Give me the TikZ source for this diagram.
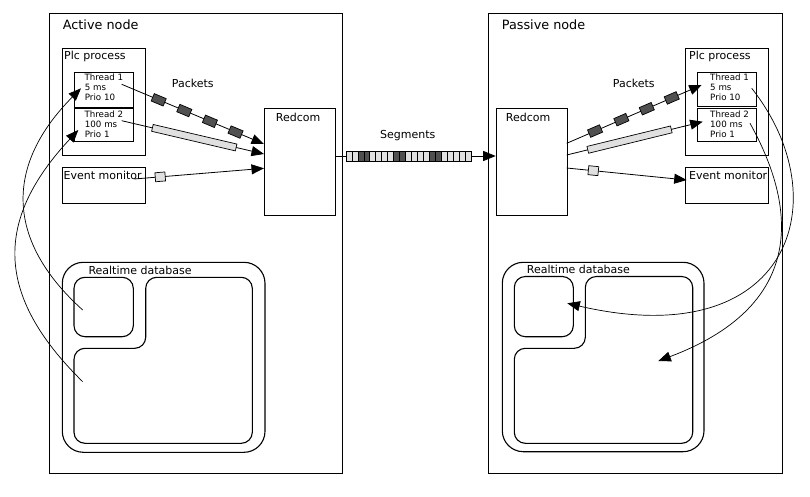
\documentclass[tikz,border=0pt]{standalone}
\usepackage{fontspec}
\setmainfont{DejaVu Sans}
\usetikzlibrary{arrows.meta}
\definecolor{pktdark}{HTML}{505050}
\definecolor{pktlight}{HTML}{E0E0E0}
\begin{document}
\begin{tikzpicture}[x=1pt,y=-1pt,
  box/.style={draw, line width=1.1pt, inner sep=0pt, anchor=north west},
  lbl/.style={anchor=base west, inner sep=0pt, font=\fontsize{11}{13}\selectfont},
  biglbl/.style={anchor=base west, inner sep=0pt, font=\fontsize{12.8}{15}\selectfont},
  tt/.style={anchor=base west, inner sep=0pt, font=\fontsize{8.7}{10}\selectfont},
  conn/.style={line width=0.8pt, -{Triangle[length=12.5pt,width=10pt]}},
  curv/.style={line width=0.7pt, -{Triangle[length=12.5pt,width=10pt]}},
  dpkt/.style={draw, line width=0.7pt, fill=pktdark, minimum width=13pt, minimum height=8pt, inner sep=0pt, sloped},
  lpkt/.style={draw, line width=0.7pt, fill=pktlight, minimum width=86pt, minimum height=7pt, inner sep=0pt, sloped},
  epkt/.style={draw, line width=0.7pt, fill=pktlight, minimum width=10pt, minimum height=9pt, inner sep=0pt, sloped},
  db/.style={line width=1.1pt},
  seg/.style={draw, line width=0.7pt}
]
\fill[white] (0,0) rectangle (810,497);
\useasboundingbox (0,0) rectangle (810,497);

% ---------- Active node ----------
\node[box, minimum width=292.4pt, minimum height=459.4pt] (an) at (49.3,13.3) {};
\node[biglbl] (anl) at (62.7,29.5) {Active node};
\node[box, minimum width=83pt, minimum height=106.7pt] (apl) at (62.3,48.3) {};
\node[lbl] (apll) at (64,60) {Plc process};
\node[box, minimum width=59pt, minimum height=34.7pt] (at1) at (74.3,72) {};
\node[tt] (at1a) at (84.3,81) {Thread 1};
\node[tt] (at1b) at (84.7,90.5) {5 ms};
\node[tt] (at1c) at (84.7,100.7) {Prio 10};
\node[box, minimum width=59pt, minimum height=32.7pt] (at2) at (74.3,108.3) {};
\node[tt] (at2a) at (84.3,118) {Thread 2};
\node[tt] (at2b) at (84.7,127.3) {100 ms};
\node[tt] (at2c) at (84.7,137.3) {Prio 1};
\node[box, minimum width=83pt, minimum height=36pt] (aev) at (62.3,167.3) {};
\node[lbl] (aevl) at (63.5,179) {Event monitor};
\node[box, minimum width=71.3pt, minimum height=106.7pt] (ard) at (264,108.3) {};
\node[lbl] (ardl) at (275.7,122) {Redcom};
\node[lbl] (apk) at (171.7,87.3) {Packets};

% Realtime database (active)
\draw[db, rounded corners=21pt] (62.3,262.3) rectangle (265,452.3);
\node[lbl] (adbl) at (88.3,274) {Realtime database};
\draw[db, rounded corners=11pt] (74,277.3) rectangle (133.3,336.7);
\draw[db, rounded corners=11pt] (74,348.3) -- (145.7,348.3) -- (145.7,277.3) -- (252.3,277.3) -- (252.3,443.3) -- (74,443.3) -- cycle;

% ---------- Passive node ----------
\node[box, minimum width=293.4pt, minimum height=460pt] (pn) at (488.3,12.7) {};
\node[biglbl] (pnl) at (501.7,29.5) {Passive node};
\node[box, minimum width=83.3pt, minimum height=106.7pt] (ppl) at (685,48.3) {};
\node[lbl] (ppll) at (689,60) {Plc process};
\node[box, minimum width=58.7pt, minimum height=34pt] (pt1) at (697.3,72) {};
\node[tt] (pt1a) at (710,81) {Thread 1};
\node[tt] (pt1b) at (710,90.5) {5 ms};
\node[tt] (pt1c) at (710,100.7) {Prio 10};
\node[box, minimum width=58.7pt, minimum height=32.7pt] (pt2) at (697.3,108.3) {};
\node[tt] (pt2a) at (710,118) {Thread 2};
\node[tt] (pt2b) at (710,127.3) {100 ms};
\node[tt] (pt2c) at (710,137.3) {Prio 1};
\node[box, minimum width=83.3pt, minimum height=36pt] (pev) at (685,167.3) {};
\node[lbl] (pevl) at (689,179) {Event monitor};
\node[box, minimum width=71pt, minimum height=106.7pt] (prd) at (495.7,108.3) {};
\node[lbl] (prdl) at (505.7,122) {Redcom};
\node[lbl] (ppk) at (612.7,87.3) {Packets};

% Realtime database (passive)
\draw[db, rounded corners=21pt] (502.3,262.3) rectangle (704,451.7);
\node[lbl] (pdbl) at (526.7,273.5) {Realtime database};
\draw[db, rounded corners=11pt] (514.3,276.5) rectangle (573.3,336.7);
\draw[db, rounded corners=11pt] (514.3,348.3) -- (585.3,348.3) -- (585.3,276.5) -- (692.7,276.5) -- (692.7,443.3) -- (514.3,443.3) -- cycle;

% ---------- connector end points ----------
\coordinate (a1s) at (121.7,84.3);
\coordinate (a2s) at (121.7,120.7);
\coordinate (aes) at (134.3,179);
\coordinate (ar1) at (264,144);
\coordinate (ar2) at (264,154);
\coordinate (ar3) at (264,168.3);
\coordinate (pr1) at (566.7,143.3);
\coordinate (pr2) at (566.7,155);
\coordinate (pr3) at (566.7,168);
\coordinate (pt1t) at (701.7,85);
\coordinate (pt2t) at (702.7,121.7);
\coordinate (pevt) at (686.7,180);
\coordinate (segy) at (0,156);
\coordinate (adb1) at (82.7,310);
\coordinate (adb2) at (82.7,381.7);
\coordinate (at1t) at (81,88.3);
\coordinate (at2t) at (78.3,130);
\coordinate (pt1s) at (751.7,88.3);
\coordinate (pt2s) at (750,123.3);
\coordinate (pdb1) at (567.3,303.3);
\coordinate (pdb2) at (658.3,361);

% active packets
\draw[conn] (a1s) -- (ar1)
  node[dpkt, pos=0.26] (ap1) {}
  node[dpkt, pos=0.44] (ap2) {}
  node[dpkt, pos=0.62] (ap3) {}
  node[dpkt, pos=0.80] (ap4) {};
\draw[conn] (a2s) -- (ar2) node[lpkt, pos=0.51] (ab1) {};
\draw[conn] (aes) -- (ar3) node[epkt, pos=0.2] (ae1) {};

% passive packets
\draw[conn] (pr1) -- (pt1t)
  node[dpkt, pos=0.21] (pp1) {}
  node[dpkt, pos=0.405] (pp2) {}
  node[dpkt, pos=0.593] (pp3) {}
  node[dpkt, pos=0.778] (pp4) {};
\draw[conn] (pr2) -- (pt2t) node[lpkt, pos=0.462] (pb1) {};
\draw[conn] (pr3) -- (pevt) node[epkt, pos=0.222] (pe1) {};

% segments
\draw[conn] (ard.east |- segy) -- (prd.west |- segy);
\foreach \c [count=\i from 0] in {pktlight,pktlight,pktdark,pktdark,pktlight,pktlight,pktlight,pktlight,pktdark,pktdark,pktlight,pktlight,pktlight,pktlight,pktdark,pktdark,pktlight,pktlight,pktlight,pktlight,pktlight}
  \draw[seg, fill=\c] (346+\i*5.952,151) rectangle ++(5.952,10);
\node[lbl] (segl) at (380,138.5) {Segments};

% database curves
\draw[curv] (adb1) .. controls (5,240) and (5,165) .. (at1t);
\draw[curv] (adb2) .. controls (-5.5,295) and (-5.5,220) .. (at2t);
\draw[curv] (pt1s) .. controls (840,200) and (790,355) .. (pdb1);
\draw[curv] (pt2s) .. controls (800,213) and (802,307) .. (pdb2);
\end{tikzpicture}
\end{document}
